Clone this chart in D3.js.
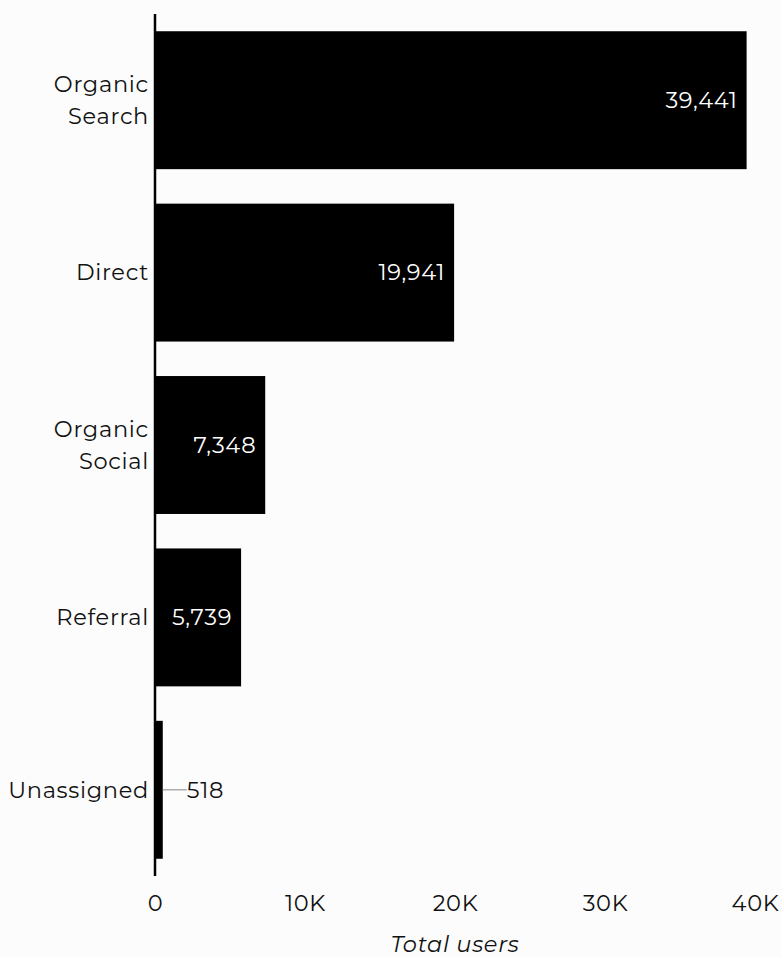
<!DOCTYPE html>
<html>
<head>
<meta charset="utf-8">
<script src="https://cdn.jsdelivr.net/npm/d3@7"></script>
<style>
  html, body { margin: 0; padding: 0; background: #fcfcfc; }
  svg { display: block; }
  text { font-family: "Montserrat", "Open Sans", sans-serif; letter-spacing: 0.7px; }
</style>
</head>
<body>
<svg id="chart" width="782" height="957"></svg>
<script>
const categories = [["Organic", "Search"], ["Direct"], ["Organic", "Social"], ["Referral"], ["Unassigned"]];
const values = [39441, 19941, 7348, 5739, 518];
const xTicks = [0, 10000, 20000, 30000, 40000];
const xTickLabels = ["0", "10K", "20K", "30K", "40K"];
const axisTitle = "Total users";

(function () {
const svg = d3.select("#chart");
const plotLeft = 155, plotRight = 755, plotTop = 14, plotBottom = 876;
const fontSize = 22.5;

const keys = categories.map(c => c.join(" "));
const x = d3.scaleLinear().domain([0, 40000]).range([plotLeft, plotRight]);
const y = d3.scaleBand().domain(keys).range([plotTop, plotBottom]).paddingInner(0.2).paddingOuter(0.1);

// bars
svg.append("g").selectAll("rect").data(values).join("rect")
  .attr("x", x(0))
  .attr("y", (d, i) => y(keys[i]))
  .attr("width", d => x(d) - x(0))
  .attr("height", y.bandwidth())
  .attr("fill", "#000");

// y axis line
svg.append("line")
  .attr("x1", plotLeft).attr("x2", plotLeft)
  .attr("y1", plotTop).attr("y2", plotBottom)
  .attr("stroke", "#000").attr("stroke-width", 2.5);

// category labels
const lineH = 32;
const catG = svg.append("g");
categories.forEach((lines, i) => {
  const cy = y(keys[i]) + y.bandwidth() / 2;
  const t = catG.append("text")
    .attr("text-anchor", "end")
    .attr("font-size", fontSize)
    .attr("fill", "#111");
  lines.forEach((ln, j) => {
    t.append("tspan")
      .attr("x", plotLeft - 6)
      .attr("y", cy + (j - (lines.length - 1) / 2) * lineH)
      .attr("dy", "0.35em")
      .text(ln);
  });
});

// value labels
const fmt = d3.format(",");
values.forEach((v, i) => {
  const cy = y(keys[i]) + y.bandwidth() / 2;
  const barW = x(v) - x(0);
  if (barW > 60) {
    svg.append("text")
      .attr("x", x(v) - 9)
      .attr("y", cy)
      .attr("dy", "0.35em")
      .attr("text-anchor", "end")
      .attr("font-size", fontSize)
      .attr("fill", "#fff")
      .text(fmt(v));
  } else {
    svg.append("line")
      .attr("x1", x(v)).attr("x2", x(v) + 24)
      .attr("y1", cy).attr("y2", cy)
      .attr("stroke", "#999").attr("stroke-width", 1.2);
    svg.append("text")
      .attr("x", x(v) + 24)
      .attr("y", cy)
      .attr("dy", "0.35em")
      .attr("text-anchor", "start")
      .attr("font-size", fontSize)
      .attr("fill", "#111")
      .text(fmt(v));
  }
});

// x axis ticks (labels only)
const xAxis = d3.axisBottom(x).tickValues(xTicks).tickFormat((d, i) => xTickLabels[i]).tickSize(0).tickPadding(0);
const xg = svg.append("g").attr("transform", `translate(0, ${plotBottom})`).call(xAxis);
xg.select(".domain").remove();
xg.selectAll("text")
  .attr("font-size", fontSize)
  .attr("fill", "#111")
  .attr("y", 27)
  .attr("dy", "0.35em")
  .style("font-family", '"Montserrat", "Open Sans", sans-serif');

// axis title
svg.append("text")
  .attr("x", (plotLeft + plotRight) / 2)
  .attr("y", 944)
  .attr("dy", "0.35em")
  .attr("text-anchor", "middle")
  .attr("font-size", fontSize)
  .attr("font-style", "italic")
  .attr("fill", "#111")
  .text(axisTitle);
})();
</script>
</body>
</html>
